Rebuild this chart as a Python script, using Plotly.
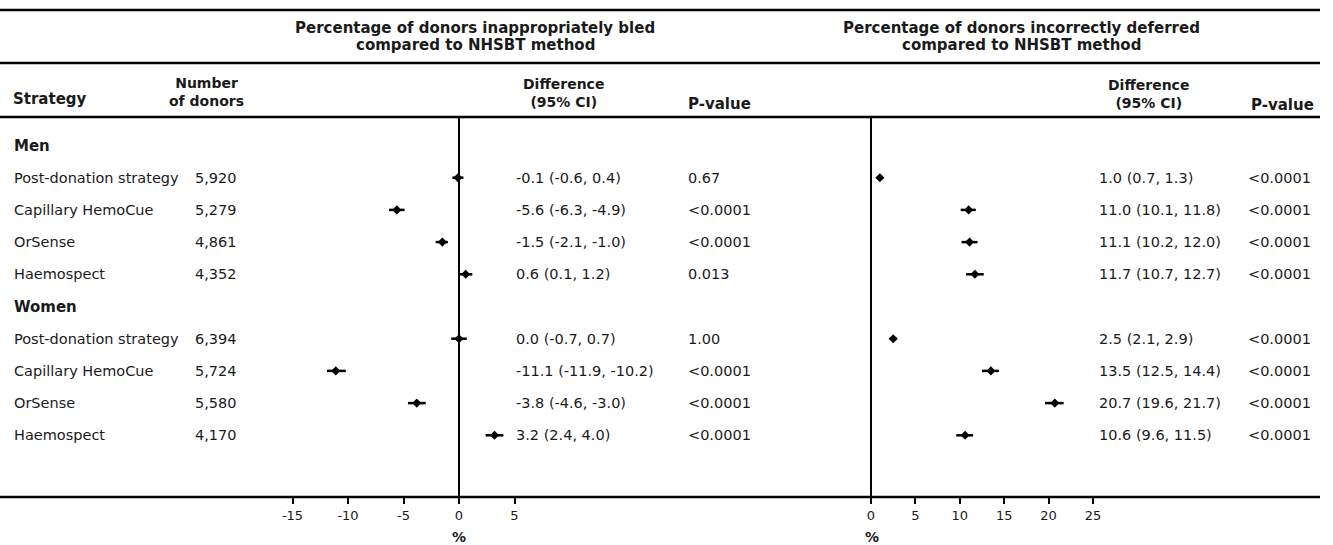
import plotly.graph_objects as go

W, H = 1333, 545

# ---------------- data ----------------
strategies = ["Post-donation strategy", "Capillary HemoCue", "OrSense", "Haemospect"]
groups = ["Men", "Women"]
n_donors = ["5,920", "5,279", "4,861", "4,352", "6,394", "5,724", "5,580", "4,170"]

bled_est = [-0.1, -5.6, -1.5, 0.6, 0.0, -11.1, -3.8, 3.2]
bled_lo = [-0.6, -6.3, -2.1, 0.1, -0.7, -11.9, -4.6, 2.4]
bled_hi = [0.4, -4.9, -1.0, 1.2, 0.7, -10.2, -3.0, 4.0]
bled_p = ["0.67", "<0.0001", "<0.0001", "0.013", "1.00", "<0.0001", "<0.0001", "<0.0001"]

def_est = [1.0, 11.0, 11.1, 11.7, 2.5, 13.5, 20.7, 10.6]
def_lo = [0.7, 10.1, 10.2, 10.7, 2.1, 12.5, 19.6, 9.6]
def_hi = [1.3, 11.8, 12.0, 12.7, 2.9, 14.4, 21.7, 11.5]
def_p = ["<0.0001"] * 8

left_ticks = [-15, -10, -5, 0, 5]
right_ticks = [0, 5, 10, 15, 20, 25]

# ---------------- layout helpers ----------------
rows = [1, 2, 3, 4, 6, 7, 8, 9]   # row index of each estimate
header_rows = [0, 5]

def px(x):
    return x / W

def py(y):
    return 1 - y / H

FONT = "DejaVu Sans"
TXT = "#1a1a1a"
BODY = 14.5
HEAD = 15
COLH = 14

def fmt(e, lo, hi):
    return f"{e:.1f} ({lo:.1f}, {hi:.1f})"

fig = go.Figure()

fig.add_trace(go.Scatter(
    x=bled_est, y=rows, mode="markers", xaxis="x", yaxis="y",
    marker=dict(symbol="diamond", size=7, color="black"),
    error_x=dict(type="data", symmetric=False,
                 array=[h - e for h, e in zip(bled_hi, bled_est)],
                 arrayminus=[e - l for e, l in zip(bled_est, bled_lo)],
                 width=0, thickness=2.5, color="black"),
    showlegend=False, hoverinfo="skip"))

fig.add_trace(go.Scatter(
    x=def_est, y=rows, mode="markers", xaxis="x2", yaxis="y",
    marker=dict(symbol="diamond", size=7, color="black"),
    error_x=dict(type="data", symmetric=False,
                 array=[h - e for h, e in zip(def_hi, def_est)],
                 arrayminus=[e - l for e, l in zip(def_est, def_lo)],
                 width=0, thickness=2.5, color="black"),
    showlegend=False, hoverinfo="skip"))

ann = []

def add(text, x, y, yref="y", xanchor="left", bold=False, size=BODY, align="left"):
    ann.append(dict(text=f"<b>{text}</b>" if bold else text,
                    x=x, y=y, xref="paper", yref=yref,
                    xanchor=xanchor, yanchor="middle", showarrow=False,
                    align=align,
                    font=dict(family=FONT, size=size, color=TXT)))

# group headers
for g, r in zip(groups, header_rows):
    add(g, px(12), r, bold=True, size=HEAD)

# row texts
for i, r in enumerate(rows):
    add(strategies[i % 4], px(12), r)
    add(n_donors[i], px(193), r)
    add(fmt(bled_est[i], bled_lo[i], bled_hi[i]), px(514), r)
    add(bled_p[i], px(686), r)
    add(fmt(def_est[i], def_lo[i], def_hi[i]), px(1097), r)
    add(def_p[i], px(1246), r)

# panel titles
add("Percentage of donors inappropriately bled", px(475), py(28), yref="paper",
    xanchor="center", bold=True, size=HEAD)
add("compared to NHSBT method", px(475), py(45), yref="paper",
    xanchor="center", bold=True, size=HEAD)
add("Percentage of donors incorrectly deferred", px(1021), py(28), yref="paper",
    xanchor="center", bold=True, size=HEAD)
add("compared to NHSBT method", px(1021), py(45), yref="paper",
    xanchor="center", bold=True, size=HEAD)

# column headers
add("Strategy", px(11), py(99), yref="paper", bold=True, size=HEAD)
add("<b>Number</b><br><b>of donors</b>", px(206), py(92), yref="paper",
    xanchor="center", size=COLH, align="center")
add("<b>Difference</b><br><b>(95% CI)</b>", px(563), py(93), yref="paper",
    xanchor="center", size=COLH, align="center")
add("P-value", px(686), py(104), yref="paper", bold=True, size=HEAD)
add("<b>Difference</b><br><b>(95% CI)</b>", px(1148), py(94), yref="paper",
    xanchor="center", size=COLH, align="center")
add("P-value", px(1249), py(105), yref="paper", bold=True, size=HEAD)

# axis titles
add("%", px(459), py(537), yref="paper", xanchor="center", bold=True, size=14)
add("%", px(872), py(537), yref="paper", xanchor="center", bold=True, size=14)

shapes = []
for yy in [10, 63, 117, 497]:
    shapes.append(dict(type="line", xref="paper", yref="paper",
                       x0=0, x1=px(1320), y0=py(yy), y1=py(yy),
                       line=dict(color="black", width=2.5)))
for xr in ["x", "x2"]:
    shapes.append(dict(type="line", xref=xr, yref="paper",
                       x0=0, x1=0, y0=py(497), y1=py(117),
                       line=dict(color="black", width=2)))

# axis geometry: left zero at 459 px, 11.1 px/unit; right zero at 871 px, 8.88 px/unit
L0, LS = 459.0, 11.1
R0, RS = 871.0, 8.88
ldom = [0.0, 0.5]
rdom = [0.5, 1.0]
lrange = [(ldom[0] * W - L0) / LS, (ldom[1] * W - L0) / LS]
rrange = [(rdom[0] * W - R0) / RS, (rdom[1] * W - R0) / RS]

Y0, DY = 145.5, 32.2
BOT = 497.0
yrange = [(BOT - Y0) / DY, (0 - Y0) / DY]

axis_common = dict(showgrid=False, zeroline=False, showline=False,
                   ticks="outside", ticklen=6, tickwidth=2, tickcolor="black",
                   tickfont=dict(family=FONT, size=13, color=TXT), fixedrange=True)

fig.update_layout(
    width=W, height=H,
    margin=dict(l=0, r=0, t=0, b=0),
    paper_bgcolor="white", plot_bgcolor="white",
    xaxis=dict(domain=ldom, range=lrange, tickvals=left_ticks,
               ticktext=[str(t) for t in left_ticks], anchor="y", **axis_common),
    xaxis2=dict(domain=rdom, range=rrange, tickvals=right_ticks,
                ticktext=[str(t) for t in right_ticks], anchor="y", **axis_common),
    yaxis=dict(domain=[1 - BOT / H, 1], range=yrange, visible=False, fixedrange=True),
    annotations=ann,
    shapes=shapes,
)

fig.write_html("out.html")
